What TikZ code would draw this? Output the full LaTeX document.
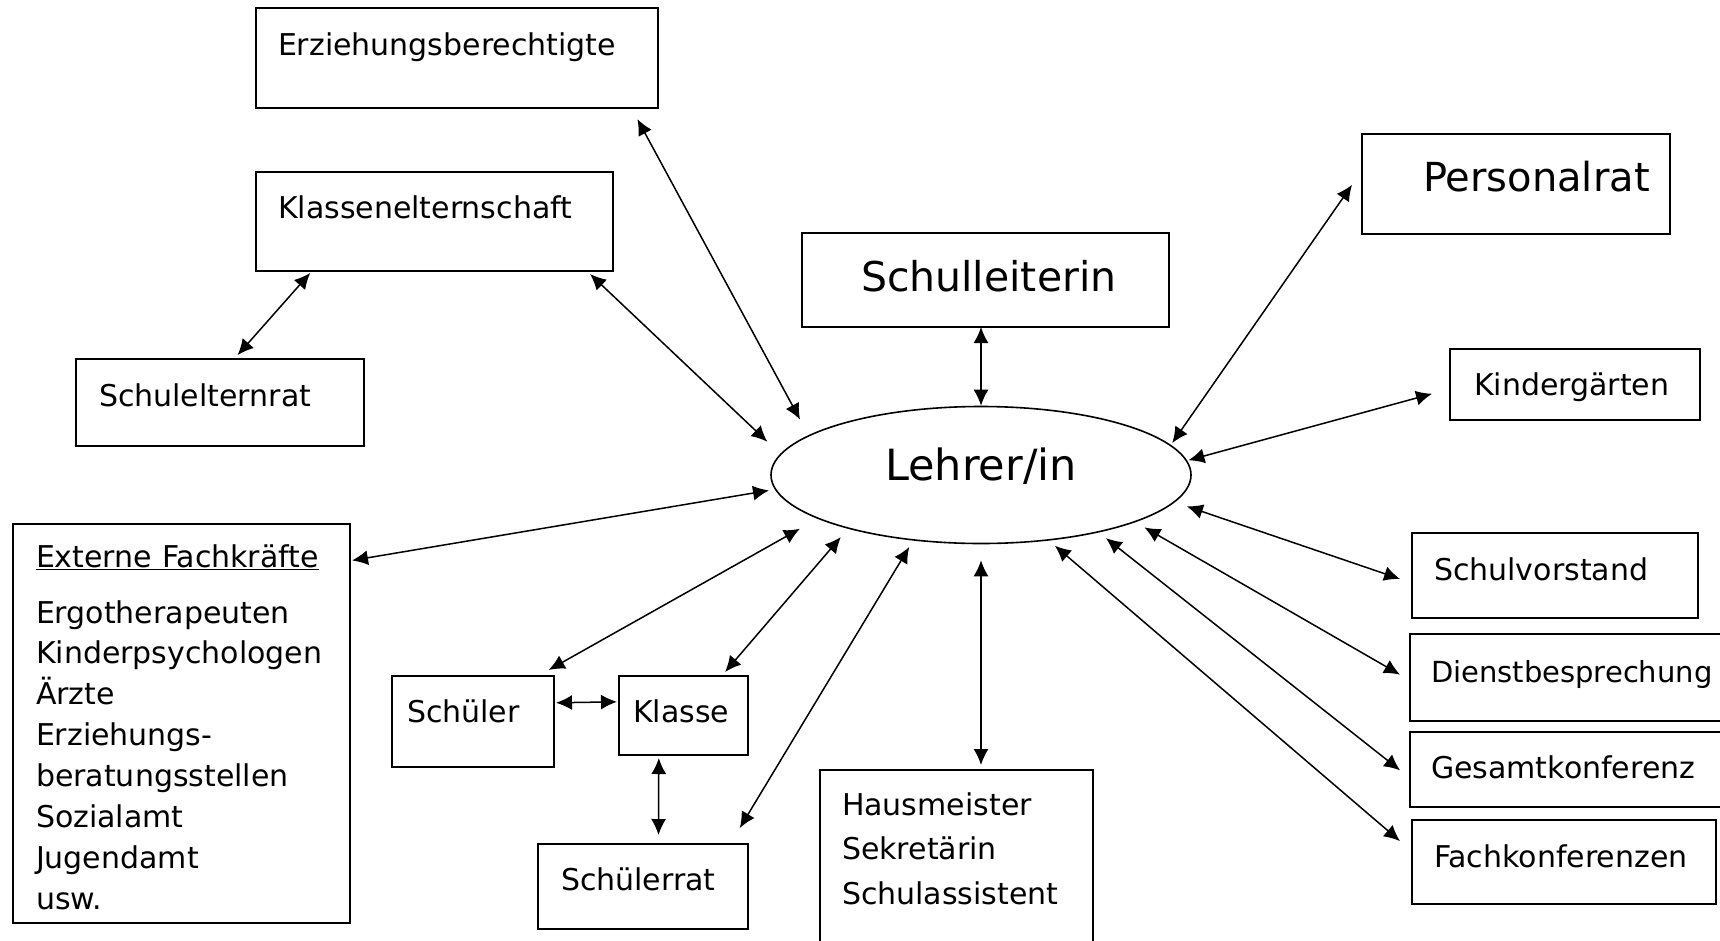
\documentclass[tikz,border=0pt]{standalone}
\usepackage{fontspec}
\setmainfont{DejaVu Sans}
\usetikzlibrary{shapes.geometric,arrows.meta}
\begin{document}
\begin{tikzpicture}[x=1pt,y=-1pt,
  box/.style={draw, line width=1.6pt, rectangle, anchor=base west, align=left,
    inner ysep=0pt, outer sep=0pt, font=\fontsize{30}{40.9}\selectfont},
  big/.style={font=\fontsize{41}{48}\selectfont},
  link/.style={{Latex[length=16pt,width=15pt]}-{Latex[length=16pt,width=15pt]}, line width=1.5pt}]

\path[use as bounding box, fill=white] (0,0) rectangle (1720,940);
\clip (0,0) rectangle (1720,940);

\node[draw, ellipse, line width=1.6pt, minimum width=420pt, minimum height=137pt, inner sep=0pt, text height=15pt, text depth=5pt, font=\fontsize{43}{50}\selectfont] (l) at (981,475) {Lehrer/in};

\node[box, inner xsep=22pt, text width=358pt, text height=47pt, text depth=53pt] (erz) at (256,55) {Erziehungsberechtigte};
\node[box, inner xsep=22pt, text width=313pt, text height=46pt, text depth=53pt] (kel) at (256,218) {Klassenelternschaft};
\node[box, inner xsep=23pt, text width=242pt, text height=47pt, text depth=40pt] (ser) at (76,406) {Schulelternrat};
\node[box, inner xsep=23pt, text width=291pt, text height=43pt, text depth=356pt] (ext) at (13,567) {\underline{Externe Fachkräfte}\\[15.1pt]
  Ergotherapeuten\\ Kinderpsychologen\\ Ärzte\\ Erziehungs-\\ beratungsstellen\\ Sozialamt\\ Jugendamt\\ usw.};
\node[box, inner xsep=15pt, text width=132pt, text height=46pt, text depth=45pt] (sch) at (392,722) {Schüler};
\node[box, inner xsep=14pt, text width=101pt, text height=46pt, text depth=33pt] (kla) at (619,722) {Klasse};
\node[box, inner xsep=23pt, text width=164pt, text height=46pt, text depth=39pt] (sra) at (538,890) {Schülerrat};
\node[box, inner xsep=22pt, text width=229pt, text height=45pt, text depth=145pt, font=\fontsize{30}{44.6}\selectfont] (hau) at (820,815) {Hausmeister\\ Sekretärin\\ Schulassistent};
\node[box, big, inner xsep=59pt, text width=249pt, text height=58pt, text depth=36pt] (sl) at (802,291) {Schulleiterin};
\node[box, font=\fontsize{40}{48}\selectfont, inner xsep=61pt, text width=186pt, text height=57pt, text depth=43pt] (pr) at (1362,191) {Personalrat};
\node[box, inner xsep=24pt, text width=202pt, text height=46pt, text depth=25pt] (kg) at (1450,395) {Kindergärten};
\node[box, inner xsep=22pt, text width=242pt, text height=47pt, text depth=38pt] (sv) at (1412,580) {Schulvorstand};
\node[box, font=\fontsize{29}{40}\selectfont, inner xsep=21pt, text width=288pt, text height=48pt, text depth=39pt] (db) at (1410,682) {Dienstbesprechung};
\node[box, inner xsep=21pt, text width=288pt, text height=46pt, text depth=29pt] (gk) at (1410,778) {Gesamtkonferenz};
\node[box, inner xsep=22pt, text width=260pt, text height=47pt, text depth=37pt] (fk) at (1412,867) {Fachkonferenzen};

\draw[link, shorten <=12.6pt, shorten >=17.7pt] (erz.-16.3) -- (l.167);
\draw[link, shorten <=4.4pt, shorten >=17.7pt] (kel.-18.1) -- (l.174.1);
\draw[link, shorten <=2.6pt, shorten >=5.2pt] (kel.-158.8) -- (ser.72.2);
\draw[link, shorten <=2pt, shorten >=5.9pt] (ext.44.9) -- (l.-176.9);
\draw[link, shorten <=12.3pt, shorten >=20.3pt] (sch.35.7) -- (l.-165.2);
\draw[link, shorten <=5.3pt, shorten >=10.9pt] (kla.46.8) -- (l.-158.5);
\draw[link, shorten <=18.7pt, shorten >=7.4pt] (sra.26.75) -- (l.-136.9);
\draw[link, shorten <=2pt, shorten >=2pt] (sch.13.5) -- (kla.168.2);
\draw[link, shorten <=3pt, shorten >=9pt] (kla.-122.9) -- (sra.70.6);
\draw[link, shorten <=16pt, shorten >=5pt] (l.south) -- (l.south |- hau.north);
\draw[link] (l.north) -- (l.north |- sl.south);
\draw[link, shorten <=17.4pt, shorten >=2.3pt] (pr.175.1) -- (l.9.06);
\draw[link, shorten <=18.6pt, shorten >=1.3pt] (kg.-178.8) -- (l.4.7);
\draw[link, shorten <=12.6pt, shorten >=12.7pt] (sv.-177.9) -- (l.-8.7);
\draw[link, shorten <=11.5pt, shorten >=10.4pt] (db.-179.6) -- (l.-17.7);
\draw[link, shorten <=12.6pt, shorten >=9pt] (gk.-177.85) -- (l.-26.8);
\draw[link, shorten <=15.8pt, shorten >=7.8pt] (fk.176.7) -- (l.-44);
\end{tikzpicture}
\end{document}
